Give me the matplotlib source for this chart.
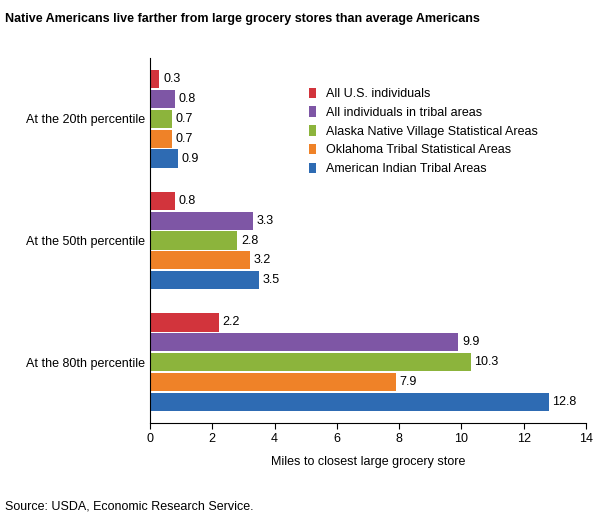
import numpy as np
import matplotlib.pyplot as plt

plt.rcParams['font.family'] = ['Liberation Sans', 'DejaVu Sans']

groups = ['At the 20th percentile', 'At the 50th percentile', 'At the 80th percentile']
series = ['All U.S. individuals', 'All individuals in tribal areas',
          'Alaska Native Village Statistical Areas', 'Oklahoma Tribal Statistical Areas',
          'American Indian Tribal Areas']
values = [
    [0.3, 0.8, 2.2],
    [0.8, 3.3, 9.9],
    [0.7, 2.8, 10.3],
    [0.7, 3.2, 7.9],
    [0.9, 3.5, 12.8],
]
colors = ['#d2343c', '#7e56a5', '#8cb43c', '#ef8228', '#2e6bb3']

fig = plt.figure(figsize=(5.93, 5.24), dpi=100)
ax = fig.add_axes([0.253, 0.193, 0.735, 0.696])

bar_h = 0.163
for i, (name, vals, c) in enumerate(zip(series, values, colors)):
    y = np.arange(len(groups)) + (i - 2) * bar_h
    ax.barh(y, vals, height=bar_h * 0.92, color=c, label=name)
    for yy, v in zip(y, vals):
        ax.text(v + 0.12, yy, f'{v}', va='center', ha='left', fontsize=9)

ax.set_yticks(np.arange(len(groups)))
ax.set_yticklabels(groups, fontsize=9)
ax.set_ylim(2.5, -0.5)
ax.set_xlim(0, 14)
ax.set_xticks(range(0, 15, 2))
ax.tick_params(axis='x', labelsize=9, direction='out', length=4)
ax.tick_params(axis='y', length=0)
ax.set_xlabel('Miles to closest large grocery store', fontsize=9, labelpad=8)
for s in ['top', 'right']:
    ax.spines[s].set_visible(False)

ax.legend(loc='upper left', bbox_to_anchor=(0.34, 0.95), frameon=False, fontsize=9,
          handlelength=0.5, handleheight=0.9, handletextpad=0.8, labelspacing=0.5)

fig.text(0.008, 0.975, 'Native Americans live farther from large grocery stores than average Americans',
         fontsize=9, fontweight='bold', va='top')
fig.text(0.008, 0.022, 'Source: USDA, Economic Research Service.', fontsize=9, va='bottom')

fig.savefig('out.png', dpi=100)
